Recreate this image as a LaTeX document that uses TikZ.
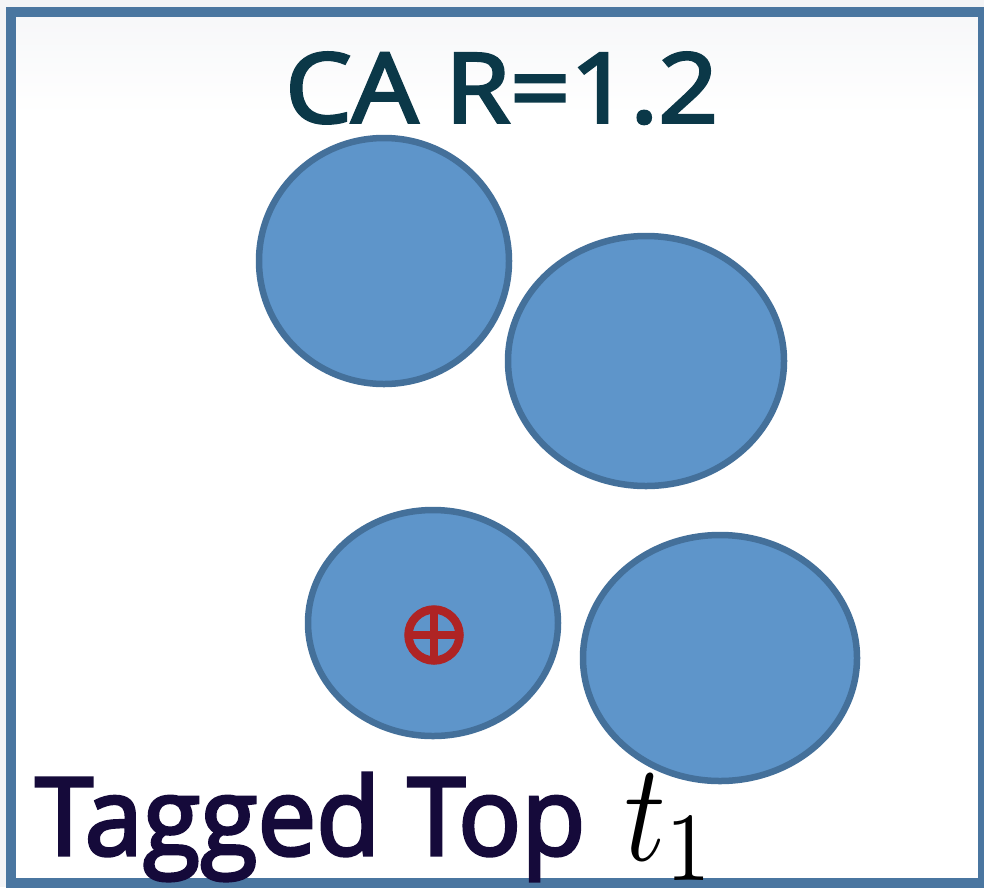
\documentclass[tikz,border=0pt]{standalone}
\usepackage{fontspec}
\usepackage{graphicx}
\newfontfamily\medfont[FakeBold=3]{Open Sans}
\definecolor{framec}{HTML}{4A76A0}
\definecolor{ballfill}{HTML}{5E95CA}
\definecolor{balledge}{HTML}{44709A}
\definecolor{titlec}{HTML}{0B3848}
\definecolor{tagc}{HTML}{150A3A}
\definecolor{markc}{HTML}{AF2424}
\definecolor{outc}{HTML}{F3F4F6}
\tikzset{
  ball/.style={fill=ballfill, draw=balledge, line width=6.5pt},
  tagmark/.style={draw=markc, line width=8.5pt}
}
\begin{document}
\begin{tikzpicture}[x=1pt,y=-1pt]
\useasboundingbox (0,0) rectangle (984,887);
\fill[outc] (0,0) rectangle (984,887);
\fill[white] (11,12) rectangle (982,883);
\shade[top color=outc!70!white, bottom color=white] (15,16) rectangle (978,115);
\draw[framec, line width=9.5pt] (11,12) rectangle (982.5,883);
% balls
\draw[ball] (384,261) ellipse [x radius=125, y radius=123];
\draw[ball] (646,361) ellipse [x radius=138, y radius=125];
\draw[ball] (433,623) ellipse [x radius=125, y radius=113];
\draw[ball] (720,658) ellipse [x radius=137, y radius=123];
% tagged mark
\draw[tagmark] (434,635) circle [radius=25.5];
\draw[tagmark] (408.5,635) -- (459.5,635) (434,609.5) -- (434,660.5);
% texts
\node[anchor=base west, inner sep=0pt, text=titlec] (title) at (285,122.5)
  {\resizebox{433pt}{70pt}{\medfont CA R=1.2}};
\node[anchor=base west, inner sep=0pt, text=tagc] (tag) at (35,855)
  {\resizebox{550pt}{82pt}{\medfont Tagged Top}};
\node[anchor=base west, inner sep=0pt] (tvar) at (624,860)
  {\resizebox{93pt}{86pt}{$t_1$}};
\end{tikzpicture}
\end{document}
